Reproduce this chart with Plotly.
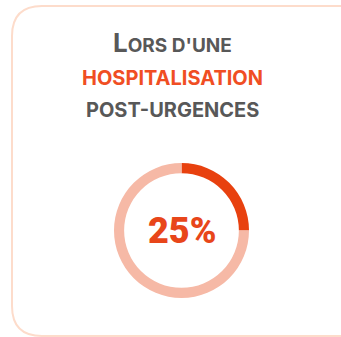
import plotly.graph_objects as go

# Share of patients, and the remainder of the ring
labels = ["Hospitalisation post-urgences", "Autres"]
values = [25, 75]
colors = ["#E8410F", "#F6B9A6"]

title_lines = ["Lors d'une", "hospitalisation", "post-urgences"]

W, H = 341, 337
share = values[0] / sum(values)

fig = go.Figure()

# Ring centred in the lower part of the card
cx, cy, r = 181.5, 230.5, 67.5
fig.add_trace(go.Pie(
    labels=labels,
    values=values,
    hole=0.85,
    sort=False,
    direction="clockwise",
    rotation=0,
    marker=dict(colors=colors, line=dict(width=0)),
    textinfo="none",
    hoverinfo="skip",
    showlegend=False,
    domain=dict(x=[(cx - r) / W, (cx + r) / W], y=[1 - (cy + r) / H, 1 - (cy - r) / H]),
))

# Rounded card outline (right side runs past the edge)
x0, y0, x1, y1, rad = 12, 6, 360, 336, 30
card_path = (
    f"M {x0 + rad},{y0} L {x1},{y0} L {x1},{y1} L {x0 + rad},{y1} "
    f"Q {x0},{y1} {x0},{y1 - rad} L {x0},{y0 + rad} Q {x0},{y0} {x0 + rad},{y0} Z"
)
fig.add_shape(type="path", path=card_path, xref="x", yref="y",
              line=dict(color="#FDDCCB", width=2), fillcolor="rgba(0,0,0,0)", layer="below")

font_family = "Inter, 'Open Sans', sans-serif"
head = title_lines[0]
line1 = (f"<span style='font-size:26px'>{head[0].upper()}</span>"
         f"{head[1:].upper()}")
fig.add_annotation(x=172, y=42, xref="x", yref="y", text=f"<b>{line1}</b>", showarrow=False,
                   font=dict(family=font_family, size=19, color="#585858"),
                   xanchor="center", yanchor="middle")
fig.add_annotation(x=172.5, y=78, xref="x", yref="y", text=f"<b>{title_lines[1].upper()}</b>",
                   showarrow=False, font=dict(family=font_family, size=20, color="#F04E23"),
                   xanchor="center", yanchor="middle")
fig.add_annotation(x=172.5, y=110, xref="x", yref="y", text=f"<b>{title_lines[2].upper()}</b>",
                   showarrow=False, font=dict(family=font_family, size=20, color="#585858"),
                   xanchor="center", yanchor="middle")

# Value in the middle of the ring
fig.add_annotation(x=cx, y=cy, xref="x", yref="y", text=f"{round(share * 100)}%",
                   showarrow=False,
                   font=dict(family="Roboto, Inter, sans-serif", size=36, weight=900, color="#E8461A"),
                   xanchor="center", yanchor="middle")

fig.update_layout(
    width=W, height=H,
    margin=dict(l=0, r=0, t=0, b=0),
    paper_bgcolor="white", plot_bgcolor="rgba(0,0,0,0)",
    xaxis=dict(range=[0, W], visible=False, fixedrange=True),
    yaxis=dict(range=[H, 0], visible=False, fixedrange=True),
)

fig.write_html("out.html", config={"displayModeBar": False})
